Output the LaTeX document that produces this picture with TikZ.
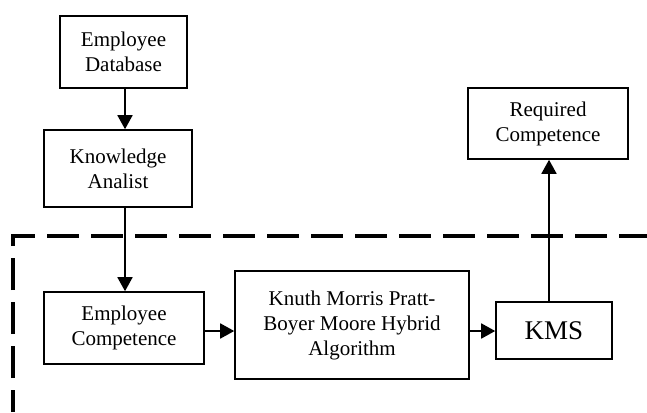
\documentclass[tikz,border=0pt]{standalone}
\usepackage{fontspec}
\setmainfont{Liberation Serif}
\usetikzlibrary{arrows.meta, positioning}

\begin{document}
\begin{tikzpicture}[
      x=0.5pt, y=-0.5pt,
      block/.style={rectangle, draw, line width=0.8pt, inner sep=0pt,
                    align=center, font=\fontsize{10.5}{12.5}\selectfont},
      flow/.style={-{Triangle[length=7pt, width=7.5pt]}, line width=0.9pt}
    ]
    \useasboundingbox (0,0) rectangle (647,412);

    \node[block, minimum width=63.5pt, minimum height=36pt] (db) at (123.5,52)
      {Employee\\Database};
    \node[block, minimum width=74pt, minimum height=38.5pt] (ka) at (118,168.5)
      {Knowledge\\Analist};
    \node[block, minimum width=80pt, minimum height=36pt] (ec) at (124,328)
      {Employee\\Competence};
    \node[block, minimum width=117pt, minimum height=54pt] (kmp) at (352,325)
      {Knuth Morris Pratt-\\Boyer Moore Hybrid\\Algorithm};
    \node[block, minimum width=58pt, minimum height=28.5pt,
          font=\fontsize{13.5}{16}\selectfont] (kms) at (554,330.5) {KMS};
    \node[block, minimum width=80pt, minimum height=35.5pt] (rc) at (548,123.5)
      {Required\\Competence};

    % system boundary
    \draw[line width=2pt, dash pattern=on 16pt off 6pt, dash phase=5pt]
      (13,412) -- (13,236) -- (647,236);

    \draw[flow] (db.south -| 125,0) -- (125,0 |- ka.north);
    \draw[flow] (ka.south -| 125,0) -- (125,0 |- ec.north);
    \draw[flow] (0,331 -| ec.east) -- (0,331 -| kmp.west);
    \draw[flow] (0,331 -| kmp.east) -- (0,331 -| kms.west);
    \draw[flow] (549,0 |- kms.north) -- (549,0 |- rc.south);
  \end{tikzpicture}
\end{document}
